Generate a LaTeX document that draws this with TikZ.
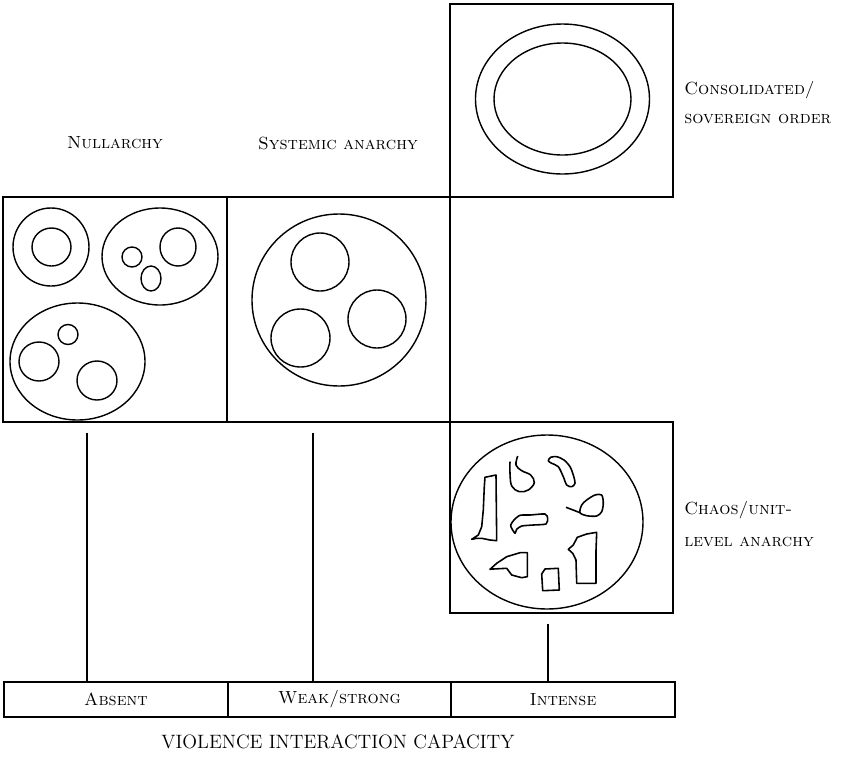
\documentclass[tikz,border=0pt]{standalone}

\tikzset{
  panel/.style={draw, line width=1pt, anchor=north west, inner sep=0pt, outer sep=0pt},
  cell/.style={draw, line width=1pt, anchor=north west, inner sep=0pt, outer sep=0pt,
    minimum height=0.7cm, font=\fontsize{10}{12}\selectfont},
  head/.style={font=\fontsize{10}{12}\selectfont},
  tag/.style={align=left, anchor=west, inner sep=0pt},
  unit/.style={line width=0.8pt},
  blob/.style={line width=0.9pt, line join=round},
  link/.style={line width=0.8pt, shorten <=6pt}
}

\begin{document}
\begin{tikzpicture}[x=0.02cm, y=-0.02cm]
    \useasboundingbox (0,0) rectangle (850,782);

    % the four kinds of order
    \node[panel, minimum width=4.48cm, minimum height=4.5cm] (null) at (3,197) {};
    \node[panel, minimum width=4.46cm, minimum height=4.5cm] (sys) at (227,197) {};
    \node[panel, minimum width=4.46cm, minimum height=3.86cm] (cons) at (450,4) {};
    \node[panel, minimum width=4.46cm, minimum height=3.82cm] (chaos) at (450,422) {};

    \node[head] (nulllab) at (115,143) {\textsc{Nullarchy}};
    \node[head] (syslab) at (338,143) {\textsc{Systemic anarchy}};
    \node[tag, font=\fontsize{10}{16.4}\selectfont] (conslab) at (684,102.5)
        {\textsc{Consolidated/}\\\textsc{sovereign order}};
    \node[tag, font=\fontsize{10}{18}\selectfont] (chaoslab) at (684,524)
        {\textsc{Chaos/unit-}\\\textsc{level anarchy}};

    % nullarchy: units with no interaction
    \draw[unit] (51,247) ellipse (38 and 39);
    \draw[unit] (51.5,247) ellipse (19.5 and 19);
    \draw[unit] (160,256.5) ellipse (58 and 48.5);
    \draw[unit] (178,247) ellipse (18 and 19);
    \draw[unit] (132,257) ellipse (10 and 10);
    \draw[unit] (151,278.5) ellipse (10 and 12.5);
    \draw[unit] (77.5,361.5) ellipse (67.5 and 58.5);
    \draw[unit] (68,334.5) ellipse (10 and 10);
    \draw[unit] (39,361.5) ellipse (20 and 19.5);
    \draw[unit] (97,380.5) ellipse (20 and 19.5);

    % systemic anarchy
    \draw[unit] (339,300) ellipse (87 and 86);
    \draw[unit] (320,262) ellipse (29 and 29);
    \draw[unit] (377,319) ellipse (29 and 29);
    \draw[unit] (300.5,338) ellipse (29.5 and 29);

    % consolidated order
    \draw[unit] (562.5,99) ellipse (87 and 75);
    \draw[unit] (562.5,99) ellipse (68.5 and 56);

    % chaos
    \draw[unit] (547,522) ellipse (96 and 87);
    \draw[blob] (485,477.3) -- (496,475) -- (496.7,540.7) -- (490,540) -- (481.7,538.3)
        -- (476.7,538.3) -- (471.7,539.3) -- (478.3,535) -- (481.7,526.7) -- (483.3,510)
        -- (484.3,486.7) -- cycle;
    \draw[blob] plot[smooth, tension=0.6] coordinates {(510,461.7) (510,473.3) (511.7,486)
        (519.3,491.7) (528.3,490) (534.3,482.7) (530.7,475) (521.7,470.7) (516,465) (517.7,456)};
    \draw[blob] plot[smooth cycle, tension=0.5] coordinates {(548.3,460.7) (550.7,457.3)
        (556.7,456.7) (564,460) (570,466.7) (573.3,475) (575,483.3) (571.7,486.7)
        (566.7,485) (563.3,476.7) (558.3,466.7) (551.7,463.3)};
    \draw[blob] (566,507.3) -- (575,510.7) -- (580,512.7);
    \draw[blob] plot[smooth cycle, tension=0.5] coordinates {(580,512.7) (581.7,505)
        (586.7,500) (595,495) (601.7,495) (603.3,503.3) (601.7,511.7) (596.7,516) (586.7,515.7)};
    \draw[blob] plot[smooth cycle, tension=0.4] coordinates {(514,520) (520,515.3) (530,515)
        (545,514) (547.7,518.3) (546,524) (533.3,525) (521.7,526) (516.7,529.3) (515,533.3)
        (511.7,528.3) (510.7,525)};
    \draw[blob] (568.3,549.3) -- (573.3,545) -- (577.3,537.3) -- (586.7,534) -- (596.7,532.3)
        -- (596,550.7) -- (596,583.3) -- (576.7,583.3) -- (576,560) -- (572.7,553.3) -- cycle;
    \draw[blob] (490,569.3) -- (496.7,563.3) -- (506.7,556.7) -- (520,552.7) -- (527.3,552.7)
        -- (527.3,576.7) -- (521.7,577.7) -- (511.7,575) -- (506.7,568.3) -- (493.3,569) -- cycle;
    \draw[blob] (541.7,574) -- (545,569) -- (558.3,568.3) -- (559.3,590) -- (542.7,590.7) -- cycle;

    % violence interaction capacity scale
    \node[cell, minimum width=4.48cm] (absent) at (4,682) {\textsc{Absent}};
    \node[cell, minimum width=4.46cm] (weak) at (228,682) {\textsc{Weak/strong}};
    \node[cell, minimum width=4.48cm] (intense) at (451,682) {\textsc{Intense}};
    \node[font=\fontsize{11}{13}\selectfont] (vic) at (338,742) {VIOLENCE INTERACTION CAPACITY};

    \coordinate (ax) at (87,0);
    \coordinate (wx) at (313,0);
    \coordinate (ix) at (548,0);
    \draw[link] (ax |- null.south) -- (ax |- absent.north);
    \draw[link] (wx |- sys.south) -- (wx |- weak.north);
    \draw[link] (ix |- chaos.south) -- (ix |- intense.north);
\end{tikzpicture}
\end{document}
